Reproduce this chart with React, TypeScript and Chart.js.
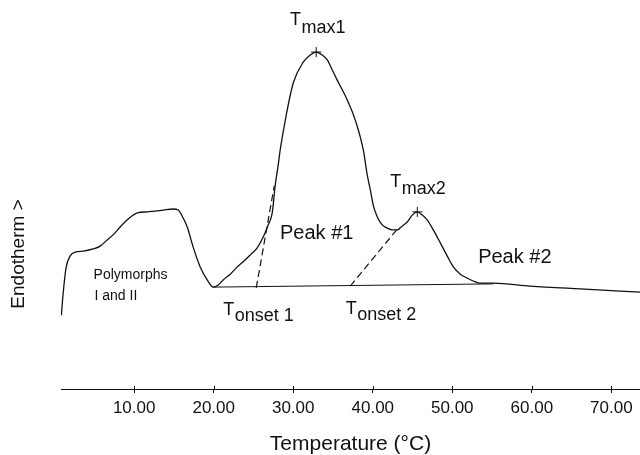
import React, { useEffect, useRef } from "react";
import { Chart, registerables } from "chart.js";

Chart.register(...registerables);

// Temperature (°C) and endotherm signal (arbitrary units, 0..100)
const CURVE_T = [
  0.85, 1.05, 1.43, 1.93, 2.68, 3.58, 4.84, 5.72, 6.6, 7.48, 8.24, 9.25, 10.38,
  11.64, 12.64, 13.65, 14.91, 15.53, 16.16, 16.67, 17.42, 18.3, 19.18, 19.94,
  20.57, 21.19, 22.08, 22.96, 23.84, 24.59, 25.47, 26.23, 26.86, 27.36, 27.74,
  28.11, 28.36, 29.12, 30.0, 31.26, 32.14, 32.89, 33.65, 34.28, 34.91, 35.53,
  36.79, 37.8, 38.81, 39.31, 39.69, 40.06, 40.57, 41.19, 41.82, 42.45, 43.08,
  43.71, 44.34, 44.97, 45.6, 46.23, 46.86, 47.61, 48.49, 49.37, 50.13, 51.01,
  51.89, 52.64, 53.52, 55.16, 59.81, 66.1, 73.6,
];
const CURVE_Y = [
  20.5, 26.1, 33.6, 36.9, 38.1, 38.3, 38.9, 39.7, 41.4, 43.1, 45.0, 47.2, 48.9,
  49.2, 49.4, 49.7, 50.0, 49.7, 47.5, 45.0, 39.4, 33.9, 30.3, 28.3,
  28.9, 30.3, 31.9, 33.9, 35.6, 37.2, 39.2, 42.2, 45.6, 48.9, 56.7,
  62.2, 66.4, 76.1, 85.0, 90.8, 92.8, 93.6, 92.8, 91.4, 88.6, 85.8,
  80.3, 74.7, 66.4, 59.4, 55.3, 51.1, 47.8, 45.6, 44.7, 44.2, 44.2,
  45.3, 46.4, 48.3, 49.2, 48.3, 46.9, 44.2, 40.6, 36.9, 33.9, 31.9,
  30.8, 30.0, 29.4, 29.4, 28.6, 27.8, 26.9,
];

const BASELINE_T = [19.94, 55.16];
const BASELINE_Y = [28.3, 29.2];
const ONSET1_T = [25.35, 27.61];
const ONSET1_Y = [28.1, 56.4];
const ONSET2_T = [37.17, 43.08];
const ONSET2_Y = [28.6, 44.4];
const PEAK_T = [32.89, 45.6];
const PEAK_Y = [93.6, 49.2];

const X_TICKS = [10, 20, 30, 40, 50, 60, 70];

// Annotation labels: main text, subscript, anchor (data coords)
const SUB_LABELS = [
  { main: "T", sub: "max1", x: 29.6, y: 101.1, drop: 8 },
  { main: "T", sub: "max2", x: 42.2, y: 56.1, drop: 7 },
  { main: "T", sub: "onset 1", x: 21.2, y: 20.6, drop: 6 },
  { main: "T", sub: "onset 2", x: 36.6, y: 20.8, drop: 6 },
];
const PLAIN_LABELS = [
  { text: "Peak #1", x: 28.34, y: 41.7, size: 20, align: "left" },
  { text: "Peak #2", x: 53.25, y: 35.0, size: 20, align: "left" },
  { text: "Polymorphs", x: 9.54, y: 30.6, size: 14, align: "center" },
  { text: "I and II", x: 7.7, y: 24.7, size: 14, align: "center" },
];

const FONT = "'Liberation Sans', Arial, Helvetica, sans-serif";
const INK = "#111";

const pts = (xs: number[], ys: number[]) => xs.map((x, i) => ({ x, y: ys[i] }));

const labelPlugin = {
  id: "labels",
  afterDatasetsDraw(chart: any) {
    const { ctx, scales } = chart;
    const sx = scales.x;
    const sy = scales.y;
    ctx.save();
    ctx.fillStyle = INK;
    ctx.textBaseline = "alphabetic";
    for (const l of SUB_LABELS) {
      const px = sx.getPixelForValue(l.x);
      const py = sy.getPixelForValue(l.y);
      ctx.font = `18px ${FONT}`;
      ctx.textAlign = "left";
      ctx.fillText(l.main, px, py);
      const w = ctx.measureText(l.main).width;
      ctx.fillText(l.sub, px + w + 0.5, py + l.drop);
    }
    for (const l of PLAIN_LABELS) {
      const px = sx.getPixelForValue(l.x);
      const py = sy.getPixelForValue(l.y);
      ctx.font = `${l.size}px ${FONT}`;
      ctx.textAlign = l.align as CanvasTextAlign;
      ctx.fillText(l.text, px, py);
    }
    // small upward tick marks (ticks cross the axis line)
    const axisY = chart.chartArea.bottom;
    ctx.strokeStyle = INK;
    ctx.lineWidth = 1;
    for (const v of X_TICKS) {
      const px = Math.round(sx.getPixelForValue(v)) + 0.5;
      ctx.beginPath();
      ctx.moveTo(px, axisY - 3);
      ctx.lineTo(px, axisY);
      ctx.stroke();
    }
    // vertical axis caption
    ctx.translate(18.5, 254);
    ctx.rotate(-Math.PI / 2);
    ctx.font = `19px ${FONT}`;
    ctx.textAlign = "center";
    ctx.textBaseline = "middle";
    ctx.fillText("Endotherm >", 0, 0);
    ctx.restore();
  },
};

export default function App() {
  const ref = useRef<HTMLCanvasElement | null>(null);

  useEffect(() => {
    if (!ref.current) return;
    const chart = new Chart(ref.current, {
      type: "line",
      data: {
        datasets: [
          {
            data: pts(CURVE_T, CURVE_Y),
            borderColor: INK,
            borderWidth: 1.3,
            pointRadius: 0,
            cubicInterpolationMode: "monotone",
          },
          {
            data: pts(BASELINE_T, BASELINE_Y),
            borderColor: INK,
            borderWidth: 1,
            pointRadius: 0,
          },
          {
            data: pts(ONSET1_T, ONSET1_Y),
            borderColor: INK,
            borderWidth: 1.2,
            borderDash: [7, 4],
            pointRadius: 0,
          },
          {
            data: pts(ONSET2_T, ONSET2_Y),
            borderColor: INK,
            borderWidth: 1.2,
            borderDash: [7, 4],
            pointRadius: 0,
          },
          {
            type: "scatter",
            data: pts(PEAK_T, PEAK_Y),
            borderColor: INK,
            borderWidth: 1,
            pointStyle: "cross",
            pointRadius: 5,
            showLine: false,
          } as any,
        ],
      },
      options: {
        animation: false,
        responsive: false,
        layout: { autoPadding: false, padding: { left: 61, right: 0, top: 29, bottom: 0 } },
        plugins: {
          legend: { display: false },
          tooltip: { enabled: false },
        },
        elements: { line: { tension: 0 } },
        scales: {
          x: {
            type: "linear",
            min: 0.8,
            max: 73.6,
            afterBuildTicks: (scale: any) => {
              scale.ticks = X_TICKS.map((v) => ({ value: v }));
            },
            afterFit: (scale: any) => {
              scale.paddingLeft = 0;
              scale.paddingRight = 0;
            },
            ticks: {
              color: INK,
              font: { family: FONT, size: 17 },
              padding: 5,
              maxRotation: 0,
              autoSkip: false,
              callback: (v: any) => Number(v).toFixed(2),
            },
            grid: {
              drawOnChartArea: false,
              drawTicks: true,
              tickLength: 4,
              color: INK,
            },
            border: { display: true, color: INK, width: 1 },
            title: {
              display: true,
              text: "Temperature (°C)",
              color: INK,
              font: { family: FONT, size: 21, lineHeight: 1.0 },
              padding: { top: 10.6, bottom: 0 },
            },
          },
          y: {
            display: false,
            min: 0,
            max: 100,
          },
        },
      },
      plugins: [labelPlugin],
    });
    return () => chart.destroy();
  }, []);

  return (
    <div style={{ position: "absolute", left: 0, top: 0, width: 640, height: 455, background: "#fff" }}>
      <canvas ref={ref} width={640} height={455} style={{ display: "block" }} />
    </div>
  );
}
